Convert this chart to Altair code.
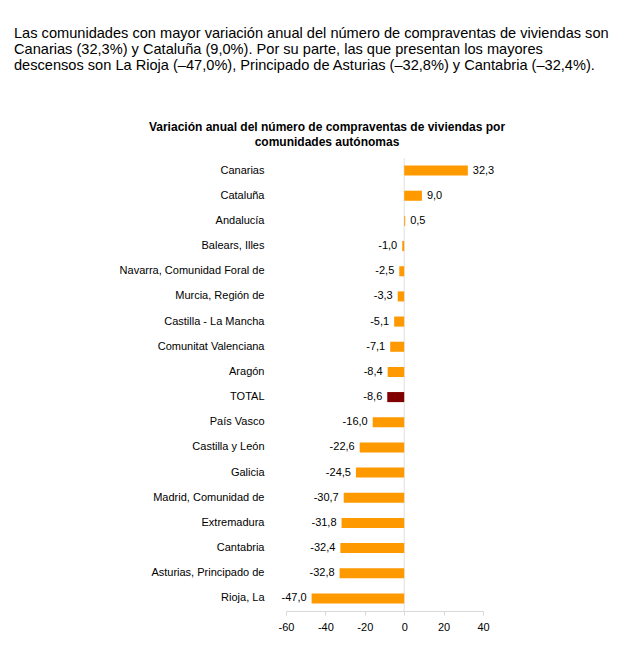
import altair as alt
import pandas as pd

categories = ["Canarias", "Cataluña", "Andalucía", "Balears, Illes",
              "Navarra, Comunidad Foral de", "Murcia, Región de",
              "Castilla - La Mancha", "Comunitat Valenciana", "Aragón", "TOTAL",
              "País Vasco", "Castilla y León", "Galicia", "Madrid, Comunidad de",
              "Extremadura", "Cantabria", "Asturias, Principado de", "Rioja, La"]
values = [32.3, 9.0, 0.5, -1.0, -2.5, -3.3, -5.1, -7.1, -8.4, -8.6,
          -16.0, -22.6, -24.5, -30.7, -31.8, -32.4, -32.8, -47.0]
x_ticks = [-60, -40, -20, 0, 20, 40]

paragraph = [
    "Las comunidades con mayor variación anual del número de compraventas de viviendas son",
    "Canarias (32,3%) y Cataluña (9,0%). Por su parte, las que presentan los mayores",
    "descensos son La Rioja (–47,0%), Principado de Asturias (–32,8%) y Cantabria (–32,4%).",
]
chart_title = ["Variación anual del número de compraventas de viviendas por",
               "comunidades autónomas"]

df = pd.DataFrame({
    "cat": categories,
    "val": values,
    "label": [f"{v:.1f}".replace(".", ",") for v in values],
    "total": ["TOTAL" if c == "TOTAL" else "other" for c in categories],
})

FONT = "Liberation Sans"

y_enc = alt.Y("cat:N", sort=categories, title=None,
              scale=alt.Scale(paddingInner=0.6, paddingOuter=0.3),
              axis=alt.Axis(ticks=False, domain=False, labelPadding=22,
                            labelFontSize=11, labelColor="#000000",
                            labelFont=FONT))
x_scale = alt.Scale(domain=[-60, 40], nice=False, zero=False)
x_axis = alt.Axis(values=x_ticks, grid=False, domainColor="#d9d9d9",
                  tickColor="#d9d9d9", tickSize=4, labelPadding=6,
                  labelFlush=False, labelOverlap=False,
                  labelExpr="datum.value < 0 ? '-' + abs(datum.value) : '' + datum.value",
                  labelFontSize=11, labelColor="#000000", labelFont=FONT)

base = alt.Chart(df)

bars = base.mark_bar().encode(
    x=alt.X("val:Q", scale=x_scale, title=None, axis=x_axis),
    x2=alt.datum(0),
    y=y_enc,
    color=alt.Color("total:N", scale=alt.Scale(domain=["other", "TOTAL"],
                                                 range=["#FF9900", "#800000"]),
                    legend=None),
)

zero_rule = alt.Chart(pd.DataFrame({"z": [0]})).mark_rule(
    color="#e0e0e0", strokeWidth=1).encode(
    x=alt.X("z:Q", scale=x_scale, title=None, axis=x_axis))

pos_labels = base.transform_filter("datum.val >= 0").mark_text(
    align="left", dx=5, fontSize=11, font=FONT, color="#000000").encode(
    x=alt.X("val:Q", scale=x_scale, title=None, axis=x_axis),
    y=alt.Y("cat:N", sort=categories), text="label:N")

neg_labels = base.transform_filter("datum.val < 0").mark_text(
    align="right", dx=-5, fontSize=11, font=FONT, color="#000000").encode(
    x=alt.X("val:Q", scale=x_scale, title=None, axis=x_axis),
    y=alt.Y("cat:N", sort=categories), text="label:N")

para_df = pd.DataFrame({"t": paragraph, "i": [0, 1, 2]})
para = alt.Chart(para_df).mark_text(
    align="left", baseline="middle", fontSize=14.6, font=FONT, color="#000000",
    x=-272).encode(
    y=alt.Y("i:Q", scale=alt.Scale(domain=[0, 2], range=[-124, -92]), axis=None),
    text="t:N")

title_df = pd.DataFrame({"t": chart_title, "i": [0, 1]})
ttl = alt.Chart(title_df).mark_text(
    align="center", baseline="middle", fontSize=12, fontWeight="bold",
    font=FONT, color="#000000", x=41).encode(
    y=alt.Y("i:Q", scale=alt.Scale(domain=[0, 1], range=[-31, -16]), axis=None),
    text="t:N")

main = alt.layer(zero_rule, bars, pos_labels, neg_labels).properties(
    width=197, height=453)

chart = alt.layer(main, para, ttl).resolve_scale(y="independent").properties(
    autosize=alt.AutoSizeParams(type="none"),
    padding={"left": 278, "top": 150, "right": 146, "bottom": 30},
    background="white",
).configure_view(stroke=None).configure_axisX(
    labelFlush=False, labelOverlap=False)

chart.save("out.html", embed_options={"renderer": "svg", "actions": False})
